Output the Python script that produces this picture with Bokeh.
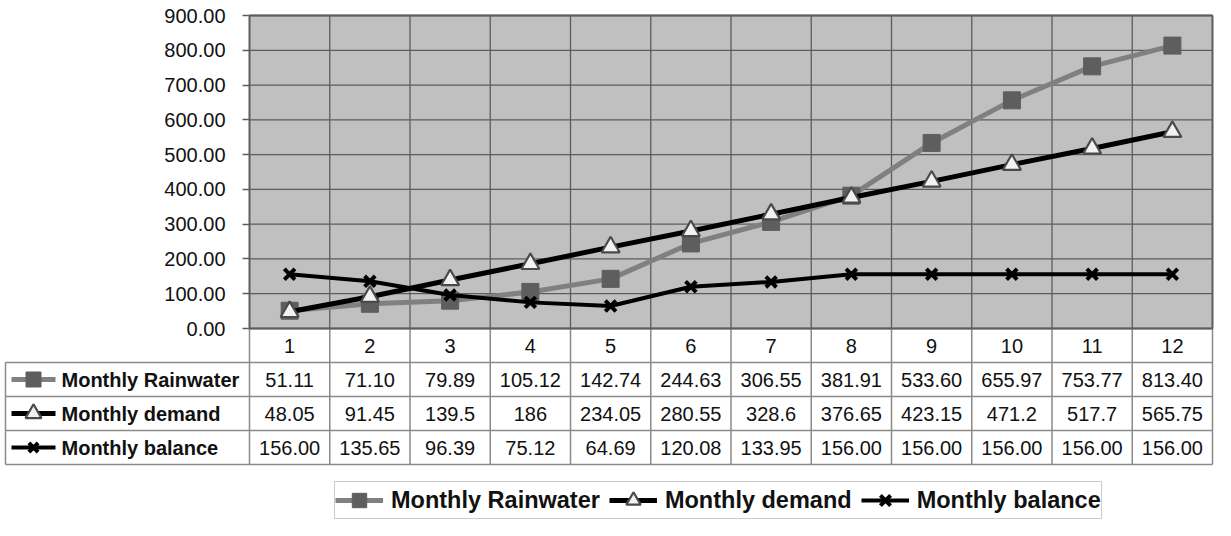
from bokeh.plotting import figure
from bokeh.models import (Range1d, LinearAxis, FixedTicker, PrintfTickFormatter,
                          Legend, LegendItem)
from bokeh.core.properties import value
from bokeh.embed import file_html
from bokeh.resources import INLINE

# ---------------- data ----------------
months = [1, 2, 3, 4, 5, 6, 7, 8, 9, 10, 11, 12]
rainwater = [51.11, 71.10, 79.89, 105.12, 142.74, 244.63, 306.55, 381.91, 533.60, 655.97, 753.77, 813.40]
demand = [48.05, 91.45, 139.5, 186, 234.05, 280.55, 328.6, 376.65, 423.15, 471.2, 517.7, 565.75]
balance = [156.00, 135.65, 96.39, 75.12, 64.69, 120.08, 133.95, 156.00, 156.00, 156.00, 156.00, 156.00]
y_ticks = [0, 100, 200, 300, 400, 500, 600, 700, 800, 900]
series_names = ["Monthly Rainwater", "Monthly demand", "Monthly balance"]

rain_txt = [f"{v:.2f}" for v in rainwater]
dem_txt = [f"{v:g}" for v in demand]
bal_txt = [f"{v:.2f}" for v in balance]

# ---------------- layout (pixels) ----------------
W, H = 1214, 520
Y_TOP_PX = 15         # 900 line from top of figure
PLOT_H_PX = 313       # 0..900 height
ROW_PX = 34           # table row height
LABEL_LEFT_PX = 5
PLOT_LEFT_PX = 249
PLOT_RIGHT_PX = 1212

ppu_y = PLOT_H_PX / (y_ticks[-1] - y_ticks[0])
y_max = y_ticks[-1] + Y_TOP_PX / ppu_y
y_min = y_ticks[0] - (H - Y_TOP_PX - PLOT_H_PX) / ppu_y

n = len(months)
ppu_x = (PLOT_RIGHT_PX - PLOT_LEFT_PX) / n
x_left = months[0] - 0.5
x_right = months[-1] + 0.5
x_start = x_left - PLOT_LEFT_PX / ppu_x
x_end = x_start + W / ppu_x
label_left = x_start + LABEL_LEFT_PX / ppu_x

def px_x(px):
    return px / ppu_x

row_h = ROW_PX / ppu_y
y0 = y_ticks[0]
y9 = y_ticks[-1]
table_bottom = y0 - 4 * row_h

p = figure(width=W, height=H, x_range=Range1d(x_start, x_end), y_range=Range1d(y_min, y_max),
           x_axis_type=None, y_axis_type=None, toolbar_location=None, output_backend="svg",
           min_border=0, outline_line_color=None, title=None)
p.background_fill_color = "white"
p.border_fill_color = "white"

GRID_DARK = "#5c5c5c"
TABLE_LINE = "#8a8a8a"

# plot area background
p.quad(left=[x_left], right=[x_right], bottom=[y0], top=[y9],
       fill_color="#c0c0c0", line_color=None)

# horizontal grid lines
p.segment(x0=[x_left] * len(y_ticks), y0=y_ticks, x1=[x_right] * len(y_ticks), y1=y_ticks,
          line_color=GRID_DARK, line_width=1.3)
# vertical grid lines in plot area
edges = [m - 0.5 for m in months] + [months[-1] + 0.5]
p.segment(x0=edges, y0=[y0] * len(edges), x1=edges, y1=[y9] * len(edges),
          line_color=GRID_DARK, line_width=1.3)

# table lines
p.segment(x0=edges, y0=[y0] * len(edges), x1=edges, y1=[table_bottom] * len(edges),
          line_color=TABLE_LINE, line_width=1.5)
row_lines = [y0 - k * row_h for k in range(1, 5)]
p.segment(x0=[label_left] * 4, y0=row_lines, x1=[x_right] * 4, y1=row_lines,
          line_color=TABLE_LINE, line_width=1.5)
p.segment(x0=[label_left], y0=[y0 - row_h], x1=[label_left], y1=[table_bottom],
          line_color=TABLE_LINE, line_width=1.5)
# plot border (top, right, bottom)
p.segment(x0=[x_left, x_right, x_left], y0=[y9, y9, y0], x1=[x_right, x_right, x_right], y1=[y9, y0, y0],
          line_color=GRID_DARK, line_width=1.8)

NUM_FONT = value("Liberation Sans")
FS = "20px"
# header numbers
p.text(x=months, y=[y0 - 0.5 * row_h] * n, text=[str(m) for m in months],
       text_font=NUM_FONT, text_font_size=FS, text_color="#111111",
       text_align="center", text_baseline="middle")
# table values
for i, txt in enumerate([rain_txt, dem_txt, bal_txt]):
    p.text(x=months, y=[y0 - (i + 1.5) * row_h] * n, text=txt,
           text_font=NUM_FONT, text_font_size=FS, text_color="#111111",
           text_align="center", text_baseline="middle")

# row labels
label_ys = [y0 - (i + 1.5) * row_h for i in range(3)]
p.text(x=[label_left + px_x(56)] * 3, y=label_ys, text=series_names,
       text_font=NUM_FONT, text_font_size=FS, text_font_style="bold", text_color="#111111",
       text_align="left", text_baseline="middle")

styles = [
    dict(line_color="#808080", line_width=5, marker="square", size=17,
         m_fill="#5e5e5e", m_line="#5e5e5e", m_lw=1),
    dict(line_color="#000000", line_width=5, marker="triangle", size=18,
         m_fill="#f2f2f2", m_line="#4a4a4a", m_lw=2.2),
    dict(line_color="#000000", line_width=4, marker="x", size=15,
         m_fill="#000000", m_line="#000000", m_lw=4),
]

# row label swatches
for yv, st in zip(label_ys, styles):
    p.segment(x0=[label_left + px_x(6)], y0=[yv], x1=[label_left + px_x(50)], y1=[yv],
              line_color=st["line_color"], line_width=st["line_width"])
    p.scatter(x=[label_left + px_x(28)], y=[yv], marker=st["marker"], size=st["size"] - 2,
              fill_color=st["m_fill"], line_color=st["m_line"], line_width=st["m_lw"])

# series
items = []
for name, vals, st in zip(series_names, [rainwater, demand, balance], styles):
    lr = p.line(months, vals, line_color=st["line_color"], line_width=st["line_width"])
    sr = p.scatter(months, vals, marker=st["marker"], size=st["size"],
                   fill_color=st["m_fill"], line_color=st["m_line"], line_width=st["m_lw"])
    items.append(LegendItem(label=name, renderers=[lr, sr]))

legend = Legend(items=items, orientation="horizontal", location=(334, 1),
                border_line_color="#9a9a9a", border_line_width=1.5,
                background_fill_color="white", background_fill_alpha=1.0,
                padding=0, margin=0, spacing=9, label_standoff=8,
                glyph_width=48, glyph_height=36, label_height=36,
                label_text_font="Liberation Sans", label_text_font_size="23.5px",
                label_text_font_style="bold", label_text_color="#111111",
                label_text_baseline="middle")
p.add_layout(legend)

# y axis
yaxis = LinearAxis(fixed_location=x_left, bounds=(y_ticks[0], y_ticks[-1]),
                   ticker=FixedTicker(ticks=y_ticks),
                   formatter=PrintfTickFormatter(format="%.2f"),
                   major_tick_out=7, major_tick_in=0, minor_tick_line_color=None,
                   major_label_standoff=17,
                   axis_line_color=GRID_DARK, axis_line_width=1.8,
                   major_tick_line_color=GRID_DARK, major_tick_line_width=1.3,
                   major_label_text_font="Liberation Sans",
                   major_label_text_font_size="20px",
                   major_label_text_color="#111111")
p.add_layout(yaxis, "left")

open("out.html", "w").write(file_html(p, INLINE))
